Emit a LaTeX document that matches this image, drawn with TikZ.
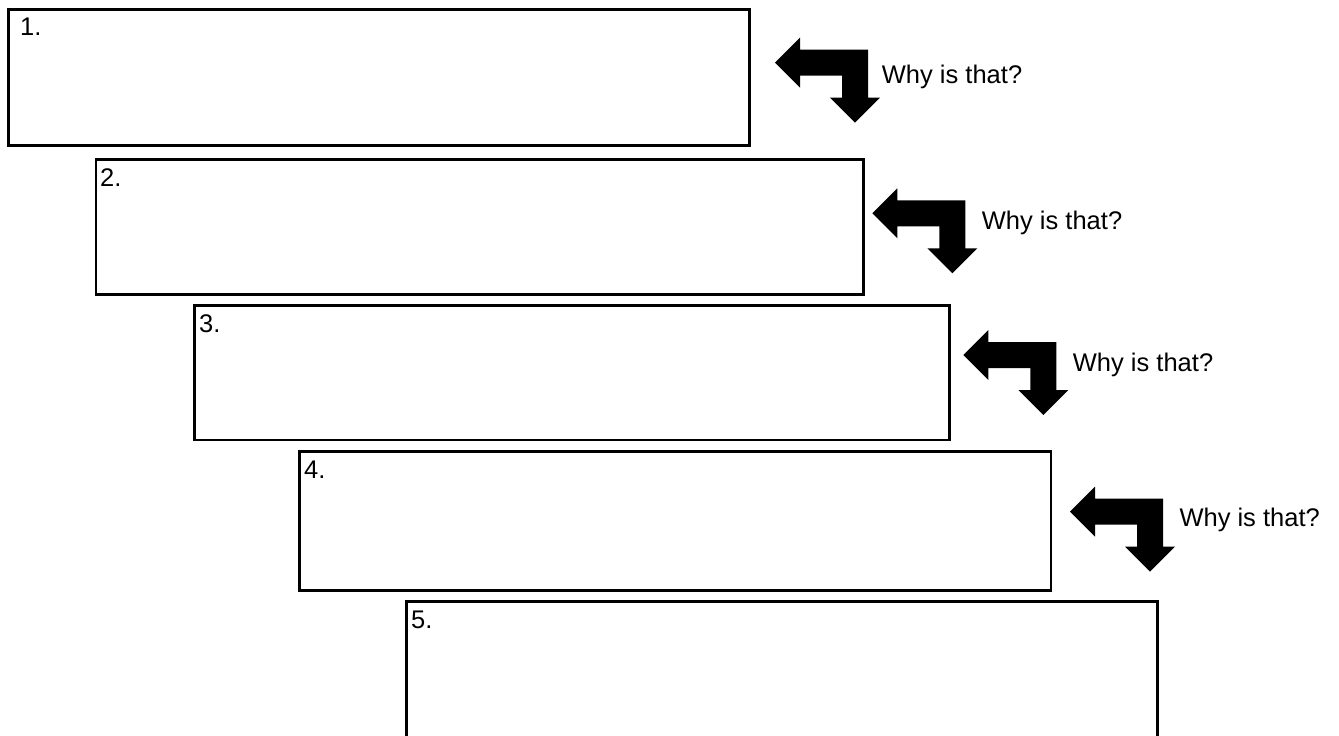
\documentclass[tikz,border=0pt]{standalone}
\usepackage{fontspec}
\setmainfont{Liberation Sans}
\begin{document}
\begin{tikzpicture}[x=1pt,y=-1pt,
  box/.style={draw=black,line width=2.5pt,fill=white,inner sep=0pt,anchor=north west},
  numlabel/.style={anchor=base west,inner sep=0pt,font=\fontsize{25.5}{30}\selectfont},
  whylabel/.style={anchor=base west,inner sep=0pt,font=\fontsize{25.5}{30}\selectfont},
  whyarrow/.pic={
    \fill[black] (0,0) -- (25,-25) -- (25,-13) -- (93,-13) -- (93,35) -- (105,35)
      -- (80,60) -- (55,35) -- (67,35) -- (67,13) -- (25,13) -- (25,25) -- cycle;
  }]
\useasboundingbox (0,0) rectangle (1339,736);
\begin{scope}
\clip (0,0) rectangle (1339,736);
% boxes
\node[box,minimum width=741pt,minimum height=136pt] (b1) at (7,8) {};
\node[box,minimum width=767.5pt,minimum height=135pt] (b2) at (94.5,158) {};
\node[box,minimum width=755pt,minimum height=134.5pt] (b3) at (193,304) {};
\node[box,minimum width=751.5pt,minimum height=139pt] (b4) at (298,450) {};
\node[box,minimum width=751pt,minimum height=160pt] (b5) at (405,600) {};
\end{scope}
% number labels
\node[numlabel] (n1) at (20,35) {1.};
\node[numlabel] (n2) at (100,186.7) {2.};
\node[numlabel] (n3) at (199,332.5) {3.};
\node[numlabel] (n4) at (304,478.5) {4.};
\node[numlabel] (n5) at (411,628.5) {5.};
% arrows
\pic (a1) at (775,62.7) {whyarrow};
\pic (a2) at (872.3,213.3) {whyarrow};
\pic (a3) at (963.3,355) {whyarrow};
\pic (a4) at (1070,511.7) {whyarrow};
% why labels
\node[whylabel] (w1) at (881.7,83.3) {Why is that?};
\node[whylabel] (w2) at (981.7,229) {Why is that?};
\node[whylabel] (w3) at (1072.7,371) {Why is that?};
\node[whylabel] (w4) at (1179.3,526) {Why is that?};
\end{tikzpicture}
\end{document}
